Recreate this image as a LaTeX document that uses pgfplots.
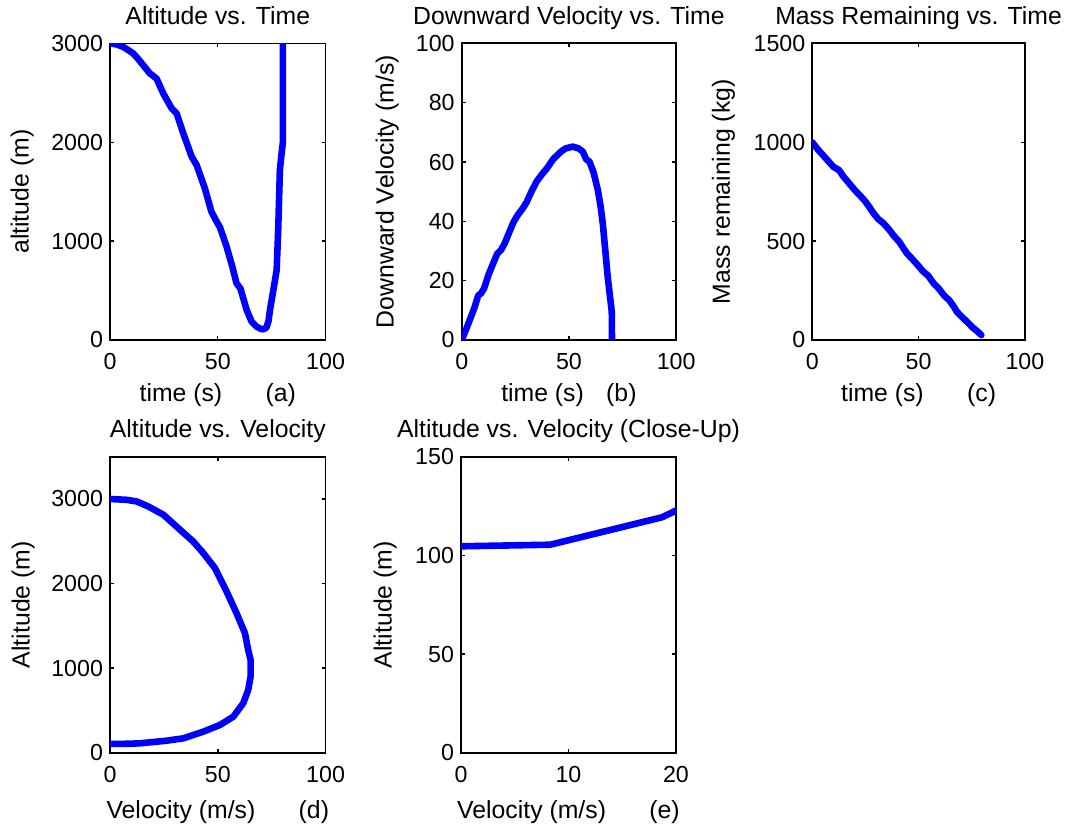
\documentclass[border=0pt]{standalone}
\usepackage{fontspec}
\setmainfont{Liberation Sans}
\usepackage{pgfplots}
\pgfplotsset{compat=1.18}
\definecolor{mblue}{RGB}{0,0,255}

\pgfplotsset{
  mpanel/.style={
    scale only axis,
    anchor=south west,
    axis line style={line width=0.9pt},
    tick align=inside,
    major tick length=2pt,
    every tick/.style={black, line width=0.7pt},
    tick label style={font=\fontsize{11.6}{13}\selectfont},
    /pgf/number format/assume math mode=true,
    /pgf/number format/1000 sep={},
    scaled ticks=false,
    xticklabel style={anchor=base, yshift=-15pt},
    label style={font=\fontsize{12.4}{14}\selectfont},
    title style={font=\fontsize{12.4}{14}\selectfont,
      at={(axis description cs:0.5,1)}, anchor=base, yshift=3.5pt},
    xlabel style={at={(axis description cs:0.5,0)}, anchor=base, yshift=-30.8pt},
  },
  mline/.style={mblue, line width=3.3pt, line join=round, line cap=round},
}

\begin{document}
\begin{tikzpicture}
\useasboundingbox (0pt,0pt) rectangle (533pt,413pt);

% (a) altitude against time
\begin{axis}[mpanel, at={(55pt,243pt)}, width=107.8pt, height=148.3pt,
  xmin=0, xmax=100, ymin=0, ymax=3000,
  xtick={0,50,100}, ytick={0,1000,2000,3000},
  title={Altitude vs. Time},
  xlabel={time (s)\hspace{1.75em}(a)},
  ylabel={altitude (m)},
  ylabel style={at={(axis description cs:-0.378,0.5)}, anchor=base}]
\addplot[mline] coordinates {
  (0,3000) (3,2990) (6,2966) (9,2925) (10.8,2898) (13,2845) (15.4,2780)
  (18.5,2696) (21.6,2645) (24.7,2494) (28.6,2343) (30.9,2292) (34,2090)
  (37.9,1853) (40.2,1769) (44,1534) (47,1300) (49.5,1196) (51,1140)
  (54,950) (56.5,760) (58.7,573) (60.5,520) (63.4,303) (65.7,185)
  (68,135) (70,112) (71.1,108) (72.5,125) (73.5,190) (74.2,303)
  (75.5,470) (76.5,600) (77.3,708) (78,1100) (78.8,1719) (79.6,1890)
  (80.2,2000) (80.2,3600)
};
\end{axis}

% (b) downward velocity against time
\begin{axis}[mpanel, at={(230.85pt,243pt)}, width=107.2pt, height=148.3pt,
  xmin=0, xmax=100, ymin=0, ymax=100,
  xtick={0,50,100}, ytick={0,20,40,60,80,100},
  title={Downward Velocity vs. Time},
  xlabel={time (s)\hspace{0.9em}(b)},
  ylabel={Downward Velocity (m/s)},
  ylabel style={at={(axis description cs:-0.318,0.5)}, anchor=base}]
\addplot[mline] coordinates {
  (0,0) (2,3.5) (4,7.2) (6,11) (7.7,15) (9,15.7) (10.5,17.5) (12.5,22)
  (14.5,25.5) (16.5,29) (18.3,30.3) (20,32.5) (22,36) (24,39.5) (26,42)
  (28.5,44.4) (30.3,46.5) (32.5,50) (35,53.5) (37.8,56.2) (39.7,57.8)
  (42.7,61) (46.3,63.5) (48.5,64.6) (51.8,65.2) (54.5,64.6) (56.5,63.5)
  (58,61) (59.6,60.1) (61.5,56.5) (63.5,50.6) (64.8,45) (65.8,39.3)
  (67,30) (68.1,21.3) (70,9.5) (70.1,0) (70.2,-40)
};
\end{axis}

% (c) mass remaining against time
\begin{axis}[mpanel, at={(406.15pt,243pt)}, width=106.3pt, height=148.3pt,
  xmin=0, xmax=100, ymin=0, ymax=1500,
  xtick={0,50,100}, ytick={0,500,1000,1500},
  title={Mass Remaining vs. Time},
  xlabel={time (s)\hspace{1.75em}(c)},
  ylabel={Mass remaining (kg)},
  ylabel style={at={(axis description cs:-0.388,0.5)}, anchor=base}]
\addplot[mline] coordinates {
  (0,1000) (2.5,965) (5,935) (7.5,905) (10,875) (12.5,860) (14.7,826)
  (17.5,790) (20,758) (22.5,730) (25,700) (27,670) (28.8,641) (31,612)
  (33.5,590) (36,560) (38.5,525) (41,495) (43,462) (44.5,438) (47,410)
  (49.5,380) (52,348) (54.5,325) (57,287) (59.5,260) (62,225) (64.5,200)
  (66.5,170) (68,143) (70.5,115) (73,90) (75.5,62) (77.5,45) (79.5,25)
};
\end{axis}

% (d) altitude against velocity
\begin{axis}[mpanel, at={(55pt,36.65pt)}, width=107.8pt, height=148pt,
  xmin=0, xmax=100, ymin=0, ymax=3500,
  xtick={0,50,100}, ytick={0,1000,2000,3000},
  title={Altitude vs. Velocity},
  xlabel={Velocity (m/s)\hspace{1.75em}(d)},
  xlabel style={yshift=-2pt},
  ylabel={Altitude (m)},
  ylabel style={at={(axis description cs:-0.373,0.5)}, anchor=base}]
\addplot[mline] coordinates {
  (0,3000) (4,2995) (7.7,2990) (12.4,2971) (17.8,2911) (24.8,2813)
  (32.5,2636) (38.6,2497) (43.3,2360) (48.7,2182) (54.1,1905) (58.7,1650)
  (62.6,1413) (64.1,1215) (65.2,1097) (65.2,899) (64.1,742) (61.8,585)
  (57.2,426) (51,328) (43.3,249) (34,170) (26.3,142) (13.9,111)
  (8.3,105.4) (0,104.6) (-10,104)
};
\end{axis}

% (e) close-up near the ground
\begin{axis}[mpanel, at={(230.5pt,36.65pt)}, width=107.5pt, height=148pt,
  xmin=0, xmax=20, ymin=0, ymax=150,
  xtick={0,10,20}, ytick={0,50,100,150},
  title={Altitude vs. Velocity (Close-Up)},
  xlabel={Velocity (m/s)\hspace{1.75em}(e)},
  xlabel style={yshift=-2pt},
  ylabel={Altitude (m)},
  ylabel style={at={(axis description cs:-0.323,0.5)}, anchor=base}]
\addplot[mline] coordinates {
  (-5,104.5) (0,104.6) (8.3,105.4) (18.7,119.3) (20,122.7) (27,141)
};
\end{axis}
\end{tikzpicture}
\end{document}
